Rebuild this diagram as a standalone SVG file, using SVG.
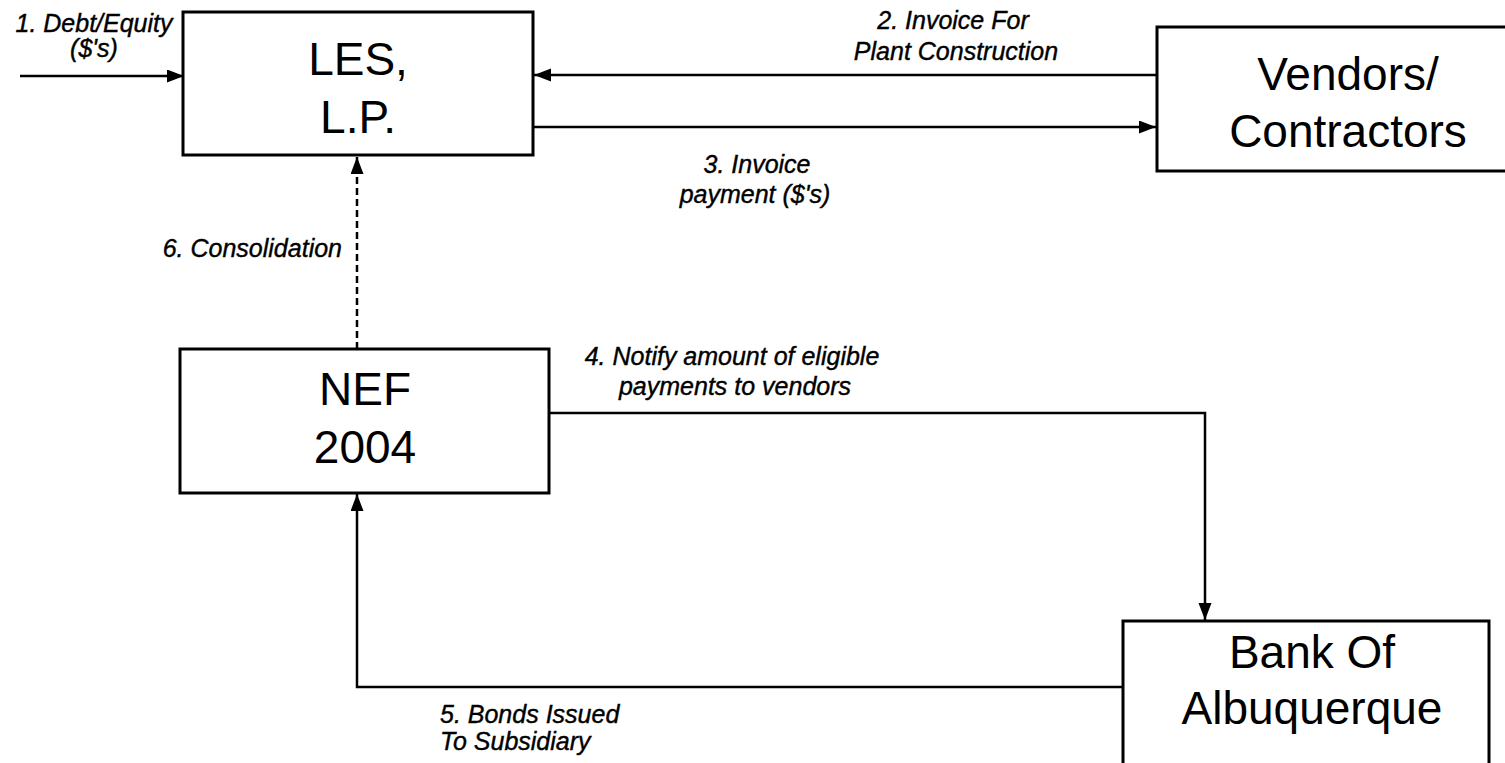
<svg xmlns="http://www.w3.org/2000/svg" width="1505" height="763" viewBox="0 0 1505 763">
<style>
.box{fill:#fff;stroke:#000;stroke-width:3}
.name{font-family:"Liberation Sans",Arial,sans-serif;font-size:46px;fill:#000;text-anchor:middle}
.lbl{font-family:"Liberation Sans",Arial,sans-serif;font-size:25px;font-style:italic;fill:#000;stroke:#000;stroke-width:0.4}
.c{fill:none;stroke:#000;stroke-width:2.5}
.d{stroke-dasharray:7 4}
</style>
<defs>
<marker id="ah" markerUnits="userSpaceOnUse" markerWidth="18" markerHeight="14" refX="17" refY="6.5" orient="auto">
<path d="M0,0 L17,6.5 L0,13 z" fill="#000"/>
</marker>
</defs>
<rect width="1505" height="763" fill="#fff"/>
<g id="connectors">
<line class="c" x1="20" y1="76" x2="184" y2="76" marker-end="url(#ah)"/>
<line class="c" x1="1157" y1="75" x2="534" y2="75" marker-end="url(#ah)"/>
<line class="c" x1="533" y1="127" x2="1156" y2="127" marker-end="url(#ah)"/>
<path class="c" d="M549,413 H1205 V620" marker-end="url(#ah)"/>
<path class="c" d="M1123,687 H357 V494" marker-end="url(#ah)"/>
<line class="c d" x1="357" y1="349" x2="357" y2="157" marker-end="url(#ah)"/>
</g>
<g id="les">
<rect class="box" x="183" y="12" width="350" height="143"/>
<text class="name" x="358" y="75">LES,</text>
<text class="name" x="358" y="133">L.P.</text>
</g>
<g id="vendors">
<rect class="box" x="1157" y="27" width="360" height="144"/>
<text class="name" x="1348" y="90">Vendors/</text>
<text class="name" x="1348" y="147">Contractors</text>
</g>
<g id="nef">
<rect class="box" x="180" y="349" width="369" height="144"/>
<text class="name" x="365" y="405">NEF</text>
<text class="name" x="365" y="463">2004</text>
</g>
<g id="bank">
<rect class="box" x="1123" y="621" width="366" height="160"/>
<text class="name" x="1312" y="668">Bank Of</text>
<text class="name" x="1312" y="724">Albuquerque</text>
</g>
<g id="labels">
<text class="lbl" x="94" y="32" text-anchor="middle">1. Debt/Equity</text>
<text class="lbl" x="94" y="57" text-anchor="middle">($'s)</text>
<text class="lbl" x="953" y="29" text-anchor="middle">2. Invoice For</text>
<text class="lbl" x="956" y="60" text-anchor="middle">Plant Construction</text>
<text class="lbl" x="757" y="173" text-anchor="middle">3. Invoice</text>
<text class="lbl" x="755" y="203" text-anchor="middle">payment ($'s)</text>
<text class="lbl" x="732" y="365" text-anchor="middle">4. Notify amount of eligible</text>
<text class="lbl" x="735" y="395" text-anchor="middle">payments to vendors</text>
<text class="lbl" x="440" y="723">5. Bonds Issued</text>
<text class="lbl" x="440" y="750">To Subsidiary</text>
<text class="lbl" x="342" y="257" text-anchor="end">6. Consolidation</text>
</g>
</svg>
